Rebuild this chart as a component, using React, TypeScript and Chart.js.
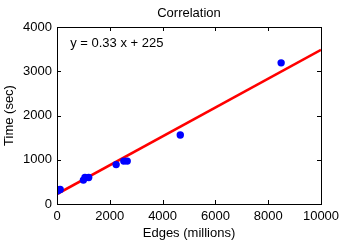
import React, { useEffect, useRef } from "react";
import { Chart, registerables } from "chart.js";

Chart.register(...registerables);

const edgesMillions = [30, 120, 1000, 1060, 1200, 2240, 2530, 2660, 4670, 8490];
const timeSec = [300, 330, 540, 600, 600, 890, 970, 970, 1560, 3190];
const fitLineX = [0, 10000];
const fitLineY = [225, 3485];
const xTicks = [0, 2000, 4000, 6000, 8000, 10000];
const yTicks = [0, 1000, 2000, 3000, 4000];
const titleText = "Correlation";
const equationText = "y = 0.33 x + 225";
const equationAnchor = [500, 3620];

const FONT = "'Liberation Sans', Arial, Helvetica, sans-serif";

const framePlugin = {
  id: "matlabFrame",
  afterDraw(chart: any) {
    const { ctx, chartArea } = chart;
    const { left, right, top, bottom } = chartArea;
    const xs = chart.scales.x;
    const ys = chart.scales.y;
    ctx.save();
    ctx.strokeStyle = "#000";
    ctx.lineWidth = 1;
    ctx.strokeRect(left + 0.5, top + 0.5, right - left, bottom - top);
    const tl = 4;
    ctx.beginPath();
    xTicks.forEach((v) => {
      const px = Math.round(xs.getPixelForValue(v)) + 0.5;
      ctx.moveTo(px, bottom);
      ctx.lineTo(px, bottom - tl);
      ctx.moveTo(px, top);
      ctx.lineTo(px, top + tl);
    });
    yTicks.forEach((v) => {
      const py = Math.round(ys.getPixelForValue(v)) + 0.5;
      ctx.moveTo(left, py);
      ctx.lineTo(left + tl, py);
      ctx.moveTo(right, py);
      ctx.lineTo(right - tl, py);
    });
    ctx.stroke();
    ctx.fillStyle = "#000";
    ctx.font = `13px ${FONT}`;
    ctx.textAlign = "center";
    ctx.textBaseline = "middle";
    ctx.fillText(titleText, (left + right) / 2, 13);
    ctx.textAlign = "left";
    ctx.fillText(
      equationText,
      xs.getPixelForValue(equationAnchor[0]),
      ys.getPixelForValue(equationAnchor[1])
    );
    ctx.restore();
  },
};

export default function App() {
  const ref = useRef<HTMLCanvasElement>(null);
  useEffect(() => {
    document.body.style.margin = "0";
    const canvas = ref.current!;
    const chart = new Chart(canvas, {
      type: "scatter",
      data: {
        datasets: [
          {
            type: "scatter",
            data: edgesMillions.map((x, i) => ({ x, y: timeSec[i] })),
            backgroundColor: "#0000ff",
            borderWidth: 0,
            pointRadius: 3.7,
            order: 0,
          },
          {
            type: "line",
            data: fitLineX.map((x, i) => ({ x, y: fitLineY[i] })),
            borderColor: "#ff0000",
            borderWidth: 2.5,
            pointRadius: 0,
            fill: false,
            order: 1,
          } as any,
        ],
      },
      options: {
        responsive: false,
        animation: false,
        layout: { padding: { left: 0, top: 27, right: 25, bottom: 0 } },
        plugins: {
          legend: { display: false },
          tooltip: { enabled: false },
          title: { display: false },
        },
        scales: {
          x: {
            type: "linear",
            min: 0,
            max: 10000,
            afterBuildTicks: (s: any) => {
              s.ticks = xTicks.map((v) => ({ value: v }));
            },
            ticks: {
              color: "#000",
              font: { family: FONT, size: 13 },
              padding: 5,
              maxRotation: 0,
              autoSkip: false,
              callback: (v: any) => String(v),
            },
            grid: { display: false, drawTicks: false },
            border: { display: false },
            title: {
              display: true,
              text: "Edges (millions)",
              color: "#000",
              font: { family: FONT, size: 13 },
              padding: { top: 0, bottom: 1 },
            },
            afterFit: (s: any) => {
              s.height = 38;
            },
          },
          y: {
            type: "linear",
            min: 0,
            max: 4000,
            afterBuildTicks: (s: any) => {
              s.ticks = yTicks.map((v) => ({ value: v }));
            },
            ticks: {
              color: "#000",
              font: { family: FONT, size: 13 },
              padding: 5,
              autoSkip: false,
              callback: (v: any) => String(v),
            },
            grid: { display: false, drawTicks: false },
            border: { display: false },
            title: {
              display: true,
              text: "Time (sec)",
              color: "#000",
              font: { family: FONT, size: 13 },
              padding: { top: 2, bottom: 0 },
            },
            afterFit: (s: any) => {
              s.width = 57;
            },
          },
        },
      },
      plugins: [framePlugin],
    });
    return () => chart.destroy();
  }, []);
  return (
    <div style={{ width: 346, height: 242 }}>
      <canvas ref={ref} width={346} height={242} />
    </div>
  );
}
